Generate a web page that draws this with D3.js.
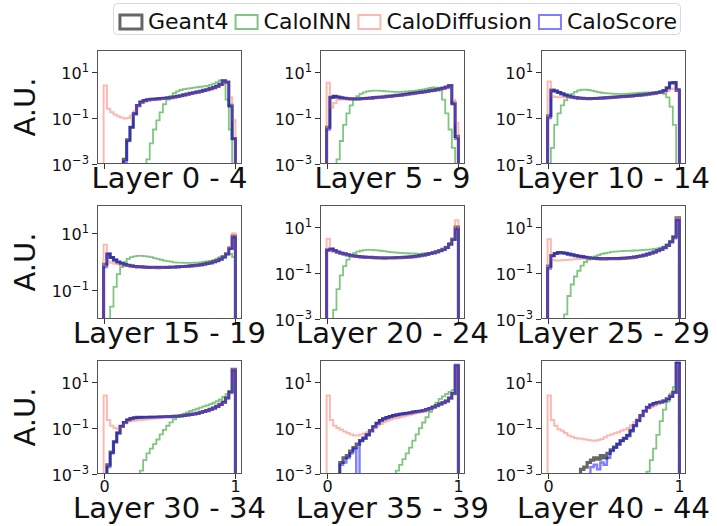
<!DOCTYPE html>
<html>
<head>
<meta charset="utf-8">
<script src="https://cdn.jsdelivr.net/npm/d3@7"></script>
<style>
  html, body { margin: 0; padding: 0; background: #fff; }
  svg { display: block; font-family: "DejaVu Sans", sans-serif; }
</style>
</head>
<body>
<svg id="chart" width="717" height="526"></svg>
<script>
// ─── Data (log10 of A.U. per bin, 40 bins on [0, 1]; null = empty bin) ───
var n = null;
var layerLabels = ['Layer 0 - 4', 'Layer 5 - 9', 'Layer 10 - 14', 'Layer 15 - 19', 'Layer 20 - 24',
  'Layer 25 - 29', 'Layer 30 - 34', 'Layer 35 - 39', 'Layer 40 - 44'];
var seriesNames = ['Geant4', 'CaloINN', 'CaloDiffusion', 'CaloScore'];
var xTickValues = [0, 1];
var yTickExponents = [-3, -1, 1];
// log10 y-limits of each panel
var yLimits = [[-3, 1.96], [-3, 1.96], [-3, 1.96], [-2.04, 2.0], [-3, 1.96], [-3, 1.96], [-3, 1.96], [-3, 1.96], [-3, 1.96]];

var geant4 = [
  [n,n,n,n,n,n,-2.8,-1.95,-1.4,-0.82,-0.46,-0.31,-0.24,-0.21,-0.19,-0.18,-0.17,-0.15,-0.14,-0.12,-0.11,-0.08,-0.06,-0.03,0.01,0.04,0.07,0.1,0.13,0.16,0.2,0.23,0.28,0.32,0.38,0.46,0.62,0.56,-0.45,-1.9],
  [-1.4,-0.1,-0.06,-0.09,-0.12,-0.14,-0.16,-0.17,-0.17,-0.17,-0.16,-0.15,-0.14,-0.13,-0.11,-0.1,-0.09,-0.08,-0.06,-0.05,-0.03,-0.01,0.0,0.02,0.04,0.06,0.08,0.1,0.12,0.14,0.16,0.19,0.21,0.24,0.27,0.3,0.35,0.41,-0.35,-1.8],
  [-0.9,0.21,0.17,0.11,0.05,0.0,-0.05,-0.09,-0.11,-0.13,-0.14,-0.15,-0.16,-0.15,-0.15,-0.14,-0.13,-0.12,-0.11,-0.1,-0.09,-0.08,-0.07,-0.06,-0.05,-0.04,-0.02,-0.01,0.01,0.02,0.04,0.06,0.08,0.11,0.14,0.19,0.31,0.53,0.54,0.2],
  [-0.1,0.26,0.14,0.05,-0.02,-0.08,-0.11,-0.14,-0.16,-0.18,-0.19,-0.19,-0.2,-0.21,-0.21,-0.21,-0.22,-0.21,-0.21,-0.21,-0.2,-0.2,-0.19,-0.18,-0.18,-0.17,-0.16,-0.15,-0.13,-0.12,-0.1,-0.07,-0.05,-0.01,0.03,0.08,0.16,0.27,0.47,0.9],
  [0.0,0.04,-0.03,-0.09,-0.14,-0.17,-0.21,-0.24,-0.26,-0.28,-0.3,-0.31,-0.32,-0.32,-0.33,-0.34,-0.34,-0.35,-0.34,-0.34,-0.34,-0.33,-0.33,-0.32,-0.31,-0.3,-0.29,-0.27,-0.24,-0.22,-0.19,-0.15,-0.12,-0.08,-0.03,0.03,0.11,0.26,0.47,1.0],
  [-0.7,-0.24,-0.15,-0.11,-0.12,-0.14,-0.18,-0.21,-0.24,-0.27,-0.29,-0.32,-0.34,-0.35,-0.36,-0.37,-0.38,-0.38,-0.37,-0.37,-0.37,-0.37,-0.36,-0.35,-0.34,-0.33,-0.31,-0.28,-0.26,-0.22,-0.18,-0.14,-0.09,-0.03,0.03,0.1,0.2,0.36,0.57,1.4],
  [n,-2.6,-2.05,-1.6,-1.22,-0.93,-0.76,-0.65,-0.59,-0.56,-0.54,-0.54,-0.53,-0.53,-0.52,-0.52,-0.52,-0.51,-0.51,-0.5,-0.5,-0.49,-0.48,-0.47,-0.45,-0.43,-0.41,-0.39,-0.36,-0.32,-0.28,-0.24,-0.19,-0.13,-0.06,0.03,0.13,0.31,0.57,1.55],
  [n,n,n,n,-2.5,-2.3,-2.2,-2.0,-1.85,-1.7,-1.55,-1.45,-1.3,-1.12,-0.95,-0.8,-0.68,-0.6,-0.55,-0.5,-0.46,-0.43,-0.4,-0.38,-0.36,-0.34,-0.31,-0.29,-0.27,-0.24,-0.2,-0.15,-0.09,-0.03,0.04,0.1,0.17,0.3,0.5,1.7],
  [n,n,n,n,n,n,n,n,n,n,-2.8,-2.7,-2.5,-2.4,-2.3,-2.35,-2.2,-2.3,-2.1,-1.95,-1.83,-1.7,-1.55,-1.45,-1.33,-1.12,-0.9,-0.68,-0.46,-0.27,-0.1,0.0,0.06,0.1,0.13,0.18,0.27,0.38,0.55,1.8]
];

var caloINN = [
  [n,n,n,n,n,n,n,n,n,n,n,n,n,-2.8,-2.1,-1.5,-1.1,-0.75,-0.4,-0.2,-0.05,0.08,0.16,0.22,0.26,0.28,0.3,0.32,0.34,0.36,0.38,0.4,0.44,0.5,0.56,0.64,0.45,-0.2,-1.5,n],
  [n,n,n,-2.8,-2.0,-1.3,-0.8,-0.45,-0.2,-0.05,0.05,0.12,0.16,0.18,0.19,0.19,0.18,0.17,0.16,0.15,0.14,0.14,0.14,0.15,0.16,0.17,0.18,0.2,0.22,0.25,0.28,0.31,0.33,0.32,0.2,-0.2,-0.8,-1.5,-2.3,n],
  [n,-2.3,-1.3,-0.8,-0.45,-0.22,-0.05,0.05,0.14,0.2,0.23,0.24,0.22,0.19,0.16,0.13,0.1,0.08,0.07,0.06,0.05,0.05,0.05,0.05,0.06,0.07,0.08,0.09,0.1,0.11,0.12,0.12,0.12,0.11,0.1,0.05,-0.1,-0.5,-1.3,n],
  [n,n,-1.6,-0.9,-0.45,-0.2,-0.02,0.09,0.15,0.18,0.2,0.2,0.19,0.17,0.15,0.12,0.09,0.06,0.03,0.01,-0.01,-0.03,-0.04,-0.04,-0.05,-0.05,-0.05,-0.04,-0.04,-0.03,-0.02,0.0,0.02,0.05,0.1,0.15,0.2,0.25,0.27,0.15],
  [n,n,-2.6,-1.7,-1.1,-0.7,-0.42,-0.25,-0.14,-0.07,-0.03,0.0,0.01,0.01,0.0,-0.01,-0.03,-0.05,-0.07,-0.09,-0.1,-0.11,-0.12,-0.13,-0.14,-0.15,-0.15,-0.16,-0.16,-0.15,-0.14,-0.12,-0.1,-0.06,-0.02,0.05,0.15,0.3,0.5,0.65],
  [n,n,n,n,n,-2.8,-2.0,-1.5,-1.15,-0.9,-0.68,-0.52,-0.42,-0.34,-0.28,-0.22,-0.17,-0.14,-0.11,-0.08,-0.07,-0.06,-0.05,-0.04,-0.04,-0.03,-0.02,-0.01,0.0,0.01,0.02,0.03,0.05,0.07,0.1,0.15,0.25,0.38,0.5,0.75],
  [n,n,n,n,n,n,n,n,n,n,n,-2.85,-2.4,-2.1,-1.9,-1.7,-1.5,-1.28,-1.08,-0.9,-0.75,-0.62,-0.52,-0.44,-0.38,-0.32,-0.26,-0.21,-0.16,-0.11,-0.06,-0.01,0.04,0.1,0.17,0.25,0.35,0.47,0.6,0.85],
  [n,n,n,n,n,n,n,n,n,n,n,n,n,n,n,n,n,n,n,n,n,-2.85,-2.6,-2.35,-2.1,-1.85,-1.55,-1.28,-1.0,-0.76,-0.53,-0.3,-0.1,0.1,0.27,0.38,0.48,0.57,0.65,0.8],
  [n,n,n,n,n,n,n,n,n,n,n,n,n,n,n,n,n,n,n,n,n,n,n,n,n,n,n,n,n,n,-2.9,-2.4,-1.9,-1.3,-0.7,-0.2,0.15,0.5,0.78,0.96]
];

var caloDiffusion = [
  [0.42,-0.6,-0.75,-0.85,-0.92,-0.98,-1.02,-1.0,-0.9,-0.7,-0.47,-0.34,-0.28,-0.25,-0.23,-0.21,-0.19,-0.18,-0.16,-0.15,-0.13,-0.11,-0.08,-0.05,-0.02,0.01,0.05,0.08,0.11,0.14,0.17,0.21,0.25,0.3,0.36,0.43,0.6,0.55,-0.1,-1.1],
  [0.53,-0.55,-0.35,-0.2,-0.18,-0.17,-0.17,-0.18,-0.18,-0.18,-0.17,-0.16,-0.15,-0.14,-0.13,-0.12,-0.1,-0.09,-0.08,-0.06,-0.05,-0.03,-0.02,0.0,0.02,0.04,0.06,0.08,0.1,0.12,0.14,0.16,0.19,0.22,0.25,0.29,0.33,0.38,-0.2,-1.2],
  [0.59,-0.05,-0.08,-0.1,-0.1,-0.1,-0.1,-0.11,-0.12,-0.13,-0.14,-0.15,-0.15,-0.15,-0.15,-0.14,-0.14,-0.13,-0.12,-0.11,-0.1,-0.09,-0.08,-0.07,-0.06,-0.05,-0.04,-0.03,-0.01,0.0,0.02,0.04,0.06,0.08,0.1,0.13,0.18,0.25,0.28,0.22],
  [0.59,0.0,-0.05,-0.08,-0.1,-0.12,-0.14,-0.16,-0.17,-0.18,-0.19,-0.2,-0.2,-0.21,-0.21,-0.22,-0.22,-0.22,-0.21,-0.21,-0.21,-0.2,-0.2,-0.19,-0.19,-0.18,-0.17,-0.16,-0.14,-0.13,-0.11,-0.09,-0.06,-0.02,0.03,0.09,0.17,0.28,0.5,1.0],
  [0.49,-0.05,-0.08,-0.1,-0.14,-0.18,-0.21,-0.24,-0.27,-0.29,-0.3,-0.31,-0.32,-0.33,-0.34,-0.34,-0.35,-0.35,-0.35,-0.35,-0.34,-0.34,-0.33,-0.33,-0.32,-0.31,-0.29,-0.27,-0.25,-0.22,-0.19,-0.16,-0.13,-0.09,-0.04,0.02,0.1,0.25,0.5,1.3],
  [0.47,-0.42,-0.45,-0.45,-0.44,-0.43,-0.42,-0.41,-0.4,-0.39,-0.38,-0.37,-0.37,-0.37,-0.37,-0.38,-0.38,-0.38,-0.38,-0.38,-0.38,-0.37,-0.37,-0.36,-0.35,-0.33,-0.31,-0.29,-0.26,-0.23,-0.19,-0.14,-0.09,-0.03,0.02,0.09,0.19,0.33,0.5,1.4],
  [0.42,-0.65,-0.9,-1.0,-1.05,-0.95,-0.8,-0.72,-0.7,-0.68,-0.66,-0.65,-0.64,-0.62,-0.6,-0.58,-0.56,-0.54,-0.52,-0.51,-0.5,-0.49,-0.48,-0.47,-0.46,-0.44,-0.42,-0.39,-0.36,-0.33,-0.29,-0.24,-0.19,-0.13,-0.06,0.02,0.12,0.3,0.5,1.55],
  [0.42,-0.65,-0.9,-1.0,-1.08,-1.15,-1.22,-1.28,-1.32,-1.32,-1.28,-1.24,-1.18,-1.1,-1.0,-0.9,-0.82,-0.75,-0.68,-0.63,-0.59,-0.56,-0.52,-0.49,-0.46,-0.42,-0.38,-0.33,-0.28,-0.24,-0.2,-0.15,-0.1,-0.04,0.03,0.1,0.19,0.3,0.5,1.75],
  [0.42,-0.65,-0.9,-1.05,-1.12,-1.22,-1.33,-1.38,-1.43,-1.45,-1.47,-1.5,-1.52,-1.54,-1.55,-1.52,-1.48,-1.4,-1.33,-1.28,-1.23,-1.18,-1.12,-1.06,-1.0,-0.88,-0.75,-0.6,-0.46,-0.3,-0.16,-0.08,-0.02,0.05,0.13,0.22,0.32,0.4,0.55,1.75]
];

var caloScore = [
  [n,n,n,n,n,n,-2.9,-2.0,-1.4,-0.8,-0.45,-0.3,-0.24,-0.2,-0.19,-0.18,-0.16,-0.15,-0.14,-0.13,-0.11,-0.09,-0.06,-0.03,0.0,0.03,0.07,0.1,0.13,0.16,0.19,0.23,0.27,0.32,0.38,0.45,0.62,0.55,-0.5,-1.9],
  [-1.5,-0.1,-0.05,-0.08,-0.12,-0.14,-0.15,-0.16,-0.17,-0.17,-0.16,-0.15,-0.14,-0.13,-0.12,-0.1,-0.09,-0.08,-0.07,-0.05,-0.03,-0.02,0.0,0.02,0.04,0.06,0.08,0.1,0.12,0.14,0.16,0.18,0.2,0.23,0.27,0.3,0.34,0.4,-0.4,-1.9],
  [-1.0,0.2,0.18,0.12,0.06,0.0,-0.05,-0.08,-0.11,-0.13,-0.14,-0.15,-0.15,-0.15,-0.14,-0.14,-0.13,-0.12,-0.11,-0.1,-0.09,-0.08,-0.07,-0.06,-0.05,-0.04,-0.03,-0.01,0.0,0.02,0.04,0.06,0.08,0.1,0.13,0.18,0.3,0.52,0.55,0.25],
  [-0.2,0.27,0.15,0.06,-0.02,-0.07,-0.11,-0.14,-0.16,-0.17,-0.18,-0.19,-0.2,-0.2,-0.21,-0.21,-0.21,-0.21,-0.21,-0.2,-0.2,-0.2,-0.19,-0.19,-0.18,-0.17,-0.16,-0.15,-0.14,-0.12,-0.1,-0.08,-0.05,-0.02,0.02,0.08,0.15,0.26,0.45,0.85],
  [0.0,0.05,-0.02,-0.08,-0.13,-0.17,-0.2,-0.23,-0.26,-0.28,-0.29,-0.3,-0.31,-0.32,-0.33,-0.33,-0.34,-0.34,-0.34,-0.34,-0.33,-0.33,-0.32,-0.32,-0.31,-0.3,-0.28,-0.26,-0.24,-0.21,-0.18,-0.15,-0.12,-0.08,-0.03,0.02,0.1,0.25,0.45,0.9],
  [-0.8,-0.25,-0.15,-0.1,-0.11,-0.14,-0.17,-0.2,-0.23,-0.26,-0.29,-0.31,-0.33,-0.35,-0.36,-0.37,-0.37,-0.37,-0.37,-0.37,-0.37,-0.36,-0.36,-0.35,-0.34,-0.32,-0.3,-0.28,-0.25,-0.22,-0.18,-0.13,-0.08,-0.02,0.03,0.1,0.2,0.35,0.55,1.3],
  [n,-2.7,-2.1,-1.6,-1.2,-0.92,-0.75,-0.64,-0.58,-0.55,-0.54,-0.53,-0.53,-0.53,-0.53,-0.53,-0.52,-0.52,-0.51,-0.51,-0.5,-0.49,-0.48,-0.47,-0.46,-0.44,-0.42,-0.39,-0.36,-0.33,-0.29,-0.24,-0.19,-0.13,-0.06,0.02,0.12,0.3,0.55,1.5],
  [n,n,n,n,-2.6,-2.5,-2.3,-2.1,-1.9,n,-1.55,-1.42,-1.28,-1.1,-0.93,-0.78,-0.66,-0.58,-0.53,-0.49,-0.45,-0.42,-0.39,-0.37,-0.35,-0.33,-0.3,-0.28,-0.26,-0.23,-0.19,-0.14,-0.08,-0.02,0.05,0.11,0.18,0.31,0.52,1.75],
  [n,n,n,n,n,n,n,n,n,n,n,n,n,-2.7,-2.6,-2.8,-2.5,-2.6,-2.3,-2.0,-1.85,-1.7,-1.56,-1.44,-1.3,-1.1,-0.88,-0.66,-0.45,-0.26,-0.1,0.02,0.08,0.12,0.14,0.18,0.27,0.38,0.56,1.85]
];

// ─── Layout / style ───
var binEdges = d3.range(41).map(function(i) { return i / 40; });
var colLeft = [97, 320, 541], panelW = 145;
var rowTop = [50, 205, 360], panelH = 114;
var styles = [
  { color: '#333333', opacity: 0.75, width: 3.2 },
  { color: '#2ca02c', opacity: 0.6, width: 1.8 },
  { color: '#fa8072', opacity: 0.55, width: 2 },
  { color: '#0000ff', opacity: 0.5, width: 2.4 }
];
var FONT = '"DejaVu Sans", sans-serif';

var svg = d3.select('#chart');

function histPath(vals, x, y, bottomPx) {
  var pts = [[x(binEdges[0]), bottomPx + 60]];
  vals.forEach(function(v, i) {
    var py = v === null ? bottomPx + 60 : y(Math.pow(10, v));
    pts.push([x(binEdges[i]), py], [x(binEdges[i + 1]), py]);
  });
  pts.push([x(binEdges[binEdges.length - 1]), bottomPx + 60]);
  return d3.line()(pts);
}

function drawPanel(p) {
  var r = Math.floor(p / 3), c = p % 3;
  var left = colLeft[c], top = rowTop[r];
  var x = d3.scaleLinear().domain([-0.05, 1.05]).range([left, left + panelW]);
  var lim = yLimits[p];
  var y = d3.scaleLog().domain([Math.pow(10, lim[0]), Math.pow(10, lim[1])]).range([top + panelH, top]);
  var bottomPx = top + panelH;

  svg.append('clipPath').attr('id', 'clip' + p)
    .append('rect').attr('x', left).attr('y', top).attr('width', panelW).attr('height', panelH);
  var g = svg.append('g').attr('clip-path', 'url(#clip' + p + ')');
  [geant4, caloINN, caloDiffusion, caloScore].forEach(function(series, s) {
    var st = styles[s];
    g.append('path').attr('d', histPath(series[p], x, y, bottomPx))
      .attr('fill', 'none').attr('stroke', st.color).attr('stroke-opacity', st.opacity)
      .attr('stroke-width', st.width).attr('stroke-linejoin', 'miter');
  });

  // frame
  svg.append('rect').attr('x', left + 0.5).attr('y', top + 0.5).attr('width', panelW - 1).attr('height', panelH - 1)
    .attr('fill', 'none').attr('stroke', '#555').attr('stroke-width', 1);

  // y ticks
  yTickExponents.forEach(function(e) {
    if (e < lim[0] - 0.01 || e > lim[1]) return;
    var ty = Math.round(y(Math.pow(10, e))) + 0.5;
    svg.append('line').attr('x1', left - 5).attr('x2', left).attr('y1', ty).attr('y2', ty)
      .attr('stroke', '#333').attr('stroke-width', 1);
    var t = svg.append('text').attr('x', left - 8).attr('y', ty + 6).attr('text-anchor', 'end')
      .attr('font-family', FONT).attr('font-size', '16px').attr('fill', '#111');
    t.append('tspan').text('10');
    t.append('tspan').attr('dy', -7).attr('font-size', '11.5px').text(e < 0 ? '\u2212' + Math.abs(e) : String(e));
  });

  // x ticks
  xTickValues.forEach(function(v) {
    var tx = Math.round(x(v)) + 0.5;
    svg.append('line').attr('x1', tx).attr('x2', tx).attr('y1', bottomPx).attr('y2', bottomPx + 5)
      .attr('stroke', '#333').attr('stroke-width', 1);
    if (r === 2) {
      svg.append('text').attr('x', tx).attr('y', bottomPx + 18).attr('text-anchor', 'middle')
        .attr('font-family', FONT).attr('font-size', '16px').attr('fill', '#111').text(v);
    }
  });

  // layer label
  svg.append('text').attr('x', left + panelW / 2).attr('y', bottomPx + (r === 2 ? 44 : 24))
    .attr('text-anchor', 'middle').attr('font-family', FONT).attr('font-size', '29px').attr('fill', '#111')
    .text(layerLabels[p]);

  if (c === 0) {
    svg.append('text').attr('transform', 'translate(35,' + (top + panelH / 2) + ') rotate(-90)')
      .attr('text-anchor', 'middle').attr('font-family', FONT).attr('font-size', '29px').attr('fill', '#111')
      .text('A.U.');
  }
}

function drawLegend() {
  var boxW = 24, boxH = 14, gapBox = 5, gapItem = 6, rightEnd = 677, textY = 29;
  var lg = svg.append('g');
  var frame = lg.append('rect');
  var texts = seriesNames.map(function(name) {
    return lg.append('text').attr('y', textY).attr('font-family', FONT).attr('font-size', '22px')
      .attr('fill', '#111').text(name);
  });
  var widths = texts.map(function(t) { return t.node().getComputedTextLength(); });
  var total = d3.sum(widths) + seriesNames.length * (boxW + gapBox) + (seriesNames.length - 1) * gapItem;
  var cx = rightEnd - total;
  frame.attr('x', cx - 5.5).attr('y', 3.5).attr('width', total + 9).attr('height', 31).attr('rx', 4)
    .attr('fill', '#fff').attr('stroke', '#d9d9d9').attr('stroke-width', 1);
  seriesNames.forEach(function(name, i) {
    var st = styles[i];
    lg.append('rect').attr('x', cx + 1).attr('y', 15).attr('width', boxW - 2).attr('height', boxH)
      .attr('fill', 'none').attr('stroke', st.color).attr('stroke-opacity', st.opacity)
      .attr('stroke-width', i === 0 ? 3 : 2);
    texts[i].attr('x', cx + boxW + gapBox);
    cx += boxW + gapBox + widths[i] + gapItem;
  });
}

d3.range(9).forEach(drawPanel);
drawLegend();
</script>
</body>
</html>
